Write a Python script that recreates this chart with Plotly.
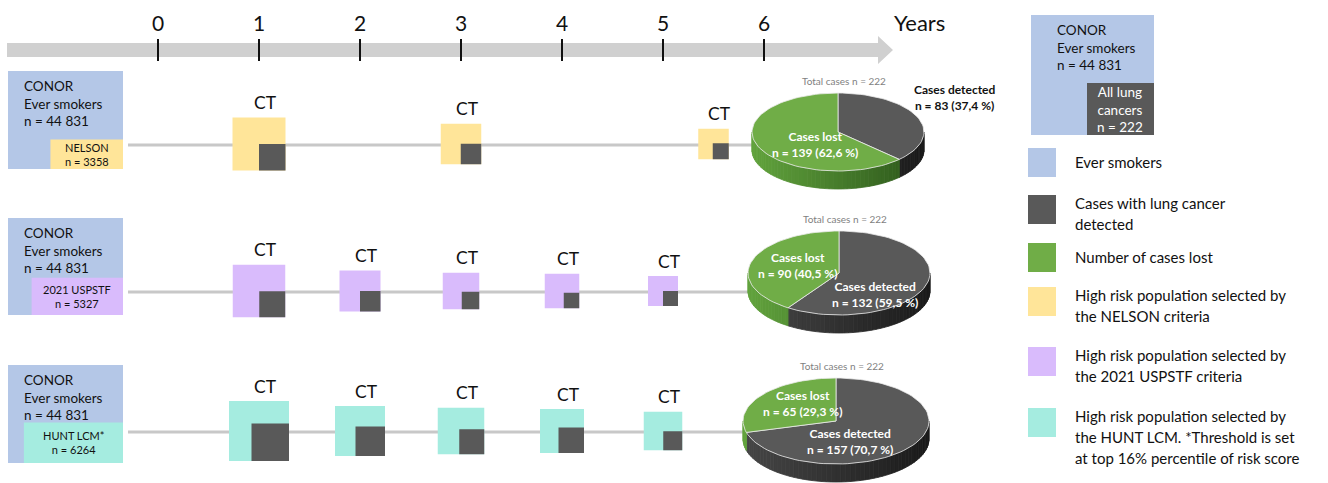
import math
import plotly.graph_objects as go

# ------------------------------------------------------------------ data
tick_years = [0, 1, 2, 3, 4, 5, 6]
programs = ["NELSON", "2021 USPSTF", "HUNT LCM*"]
selected_n = [3358, 5327, 6264]
cohort_label = "44 831"
total_cases = 222

nelson_years = [1, 3, 5.5]
uspstf_years = [1, 2, 3, 4, 5]
hunt_years = [1, 2, 3, 4, 5]

# relative size of each CT round box (screened) and of the lung-cancer box (detected),
# estimated from the picture
nelson_screened = [53, 40.5, 30.5]
nelson_detected = [26.5, 20.5, 16]
uspstf_screened = [52.5, 41, 36.5, 34.5, 30]
uspstf_detected = [26, 20.5, 17.5, 15.5, 15]
hunt_screened = [60, 50, 46.5, 44, 38.5]
hunt_detected = [37.5, 29.5, 25, 25.5, 19]

cases_detected = [83, 132, 157]
cases_lost = [139, 90, 65]

legend_items = [
    ["Ever smokers"],
    ["Cases with lung cancer", "detected"],
    ["Number of cases lost"],
    ["High risk population selected by", "the NELSON criteria"],
    ["High risk population selected by", "the 2021 USPSTF criteria"],
    ["High risk population selected by", "the HUNT LCM. *Threshold is set",
     "at top 16% percentile of risk score"],
]

# ------------------------------------------------------------------ style
W, H = 1328, 483
FONT = "Lato"
BLUE = "#b4c7e7"
DARK = "#595959"
GREEN = "#70ad47"
PROG_COL = ["#ffe599", "#d9bbfc", "#a5ece0"]
TXT = "#111111"
X0PX, SLOPE = 158.0, 101.0          # pixel position of year 0, pixels per year


def px2x(p):
    return (p - X0PX) / SLOPE


def yr2px(y):
    return X0PX + SLOPE * y


shapes = []
annotations = []
traces = []


def rect(x0, y0, x1, y1, color):
    shapes.append(dict(type="rect", xref="x", yref="y", x0=px2x(x0), x1=px2x(x1),
                       y0=y0, y1=y1, fillcolor=color, line=dict(width=0), layer="above"))


def text(xp, y, s, size=13, color=TXT, xanchor="center", bold=False):
    if bold:
        s = "<b>" + s + "</b>"
    annotations.append(dict(x=px2x(xp), y=y, xref="x", yref="y", text=s, showarrow=False,
                            xanchor=xanchor, yanchor="middle", align="left" if xanchor == "left" else "center",
                            font=dict(family=FONT, size=size, color=color)))


# ------------------------------------------------------------------ time axis arrow
band_top, band_bot = 43, 57
shaft_end, tip = 878, 893
path = (f"M {px2x(7)} {band_top} L {px2x(shaft_end)} {band_top} L {px2x(shaft_end)} 36 "
        f"L {px2x(tip)} 50 L {px2x(shaft_end)} 64 L {px2x(shaft_end)} {band_bot} "
        f"L {px2x(7)} {band_bot} Z")
shapes.append(dict(type="path", xref="x", yref="y", path=path, fillcolor="#d0d0d0",
                   line=dict(width=0), layer="below"))
for t in tick_years:
    shapes.append(dict(type="line", xref="x", yref="y", x0=t, x1=t, y0=39, y1=61,
                       line=dict(color="#111111", width=2), layer="above"))
    annotations.append(dict(x=t, y=22, xref="x", yref="y", text=str(t), showarrow=False,
                            font=dict(family=FONT, size=21, color=TXT)))
text(892, 22, "Years", size=22, xanchor="left")

# ------------------------------------------------------------------ rows
row_line_y = [145, 292, 432]
row_conor_y = [(71, 169), (218, 315), (365, 463)]
row_years = [nelson_years, uspstf_years, hunt_years]
row_screened = [nelson_screened, uspstf_screened, hunt_screened]
row_detected = [nelson_detected, uspstf_detected, hunt_detected]
pies = [dict(cx=838, cy=132, a=86, b=39, d=18),
        dict(cx=839, cy=273, a=91, b=42, d=18),
        dict(cx=836, cy=421, a=93, b=43, d=18)]


def mix(c1, c2, t):
    a = [int(c1[i:i + 2], 16) for i in (1, 3, 5)]
    b = [int(c2[i:i + 2], 16) for i in (1, 3, 5)]
    return "rgb(%d,%d,%d)" % tuple(round(a[k] + (b[k] - a[k]) * t) for k in range(3))


def pie3d(cx, cy, a, b, d, det, lost):
    split = 2 * math.pi * det / (det + lost)

    def pt(th):
        return cx + a * math.sin(th), cy - b * math.cos(th)

    # side (front half, with gradient strips)
    n = 60
    angs = [math.pi / 2 + math.pi * i / n for i in range(n + 1)]
    if math.pi / 2 < split < 1.5 * math.pi:
        angs = sorted(set(angs + [split]))
    for t0, t1 in zip(angs[:-1], angs[1:]):
        mid = (t0 + t1) / 2
        t = (1 - math.sin(mid)) / 2
        if mid < split:
            col = mix("#1a1a1a", "#474747", t)
        else:
            col = mix("#2b551a", "#62a33d", t)
        (x0, y0), (x1, y1) = pt(t0), pt(t1)
        xs = [x0, x1, x1, x0, x0]
        ys = [y0, y1, y1 + d, y0 + d, y0]
        traces.append(go.Scatter(x=[px2x(v) for v in xs], y=ys, mode="lines", fill="toself",
                                 fillcolor=col, line=dict(color=col, width=0.8),
                                 hoverinfo="skip"))
    # top faces
    for (s0, s1, col) in [(0, split, DARK), (split, 2 * math.pi, GREEN)]:
        m = max(8, int(120 * (s1 - s0) / (2 * math.pi)))
        xs, ys = [cx], [cy]
        for i in range(m + 1):
            px, py = pt(s0 + (s1 - s0) * i / m)
            xs.append(px)
            ys.append(py)
        xs.append(cx)
        ys.append(cy)
        traces.append(go.Scatter(x=[px2x(v) for v in xs], y=ys, mode="lines", fill="toself",
                                 fillcolor=col, line=dict(color="rgba(235,235,235,0.8)", width=1),
                                 hoverinfo="skip"))


for r in range(3):
    ly = row_line_y[r]
    pie = pies[r]
    # connecting line
    shapes.append(dict(type="line", xref="x", yref="y", x0=px2x(128),
                       x1=px2x(pie["cx"] - pie["a"]), y0=ly, y1=ly,
                       line=dict(color="#c8c8c8", width=3), layer="below"))
    # CONOR box + selected population box (area proportional to n)
    cy0, cy1 = row_conor_y[r]
    rect(8, cy0, 123, cy1, BLUE)
    area = 0.64 * selected_n[r]
    bh = math.sqrt(area / 2.45)
    bw = 2.45 * bh
    rect(123 - bw, cy1 - bh, 123, cy1, PROG_COL[r])
    annotations.append(dict(x=px2x(22), y=cy0 + 32, xref="x", yref="y",
                            text="CONOR<br>Ever smokers<br>n = " + cohort_label,
                            showarrow=False, xanchor="left", yanchor="middle", align="left",
                            font=dict(family=FONT, size=13.5, color=TXT)))
    annotations.append(dict(x=px2x(123 - bw / 2), y=cy1 - bh / 2, xref="x", yref="y",
                            text=programs[r] + "<br>n = " + str(selected_n[r]),
                            showarrow=False, xanchor="center", yanchor="middle",
                            font=dict(family=FONT, size=11, color=TXT)))
    # CT rounds
    for yr, s, dd in zip(row_years[r], row_screened[r], row_detected[r]):
        c = yr2px(yr)
        x0, x1 = c - s / 2, c + s / 2
        yb = ly - 1 + s / 2
        rect(x0, yb - s, x1, yb, PROG_COL[r])
        rect(x1 - dd, yb - dd, x1, yb, DARK)
        text(c + 6, yb - s - 15, "CT", size=17.5)
    # pie
    pie3d(pie["cx"], pie["cy"], pie["a"], pie["b"], pie["d"], cases_detected[r], cases_lost[r])
    text(pie["cx"] + 6, pie["cy"] - pie["b"] - 12, "Total cases n = %d" % total_cases,
         size=10, color="#7f7f7f")

# pie labels
def pct(v):
    return ("%.1f" % (100 * v / total_cases)).replace(".", ",")


det_lbl = ["Cases detected<br>n = %d (%s %%)" % (v, pct(v)) for v in cases_detected]
lost_lbl = ["Cases lost<br>n = %d (%s %%)" % (v, pct(v)) for v in cases_lost]
lbl_pos_det = [(954, 97, TXT), (875, 294, "white"), (850, 441, "white")]
lbl_pos_lost = [(815, 144, "white"), (797, 265, "white"), (802, 403, "white")]
for r in range(3):
    x, y, col = lbl_pos_det[r]
    text(x, y, det_lbl[r], size=12, color=col, bold=True)
    x, y, col = lbl_pos_lost[r]
    text(x, y, lost_lbl[r], size=12, color=col, bold=True)

# ------------------------------------------------------------------ legend
rect(1031, 15, 1154, 135, BLUE)
rect(1087, 83, 1154, 135, DARK)
annotations.append(dict(x=px2x(1055), y=47, xref="x", yref="y",
                        text="CONOR<br>Ever smokers<br>n = " + cohort_label, showarrow=False,
                        xanchor="left", yanchor="middle", align="left",
                        font=dict(family=FONT, size=13.5, color=TXT)))
annotations.append(dict(x=px2x(1120), y=109, xref="x", yref="y",
                        text="All lung<br>cancers<br>n = %d" % total_cases, showarrow=False,
                        xanchor="center", yanchor="middle", align="center",
                        font=dict(family=FONT, size=13.5, color="white")))
leg_cols = [BLUE, DARK, GREEN] + PROG_COL
leg_tops = [148, 195, 243, 287, 347, 408]
for lines, col, top in zip(legend_items, leg_cols, leg_tops):
    rect(1028, top, 1056, top + 29, col)
    if len(lines) == 1:
        text(1073, top + 14, lines[0], size=15, xanchor="left")
    else:
        for i, ln in enumerate(lines):
            text(1073, top + 8 + 21 * i, ln, size=15, xanchor="left")

# ------------------------------------------------------------------ figure
fig = go.Figure(traces)
fig.update_layout(
    width=W, height=H, margin=dict(l=0, r=0, t=0, b=0),
    paper_bgcolor="white", plot_bgcolor="white", showlegend=False,
    xaxis=dict(range=[px2x(0), px2x(W)], visible=False, fixedrange=True),
    yaxis=dict(range=[H, 0], visible=False, fixedrange=True),
    shapes=shapes, annotations=annotations, font=dict(family=FONT),
)
fig.write_html("out.html")
